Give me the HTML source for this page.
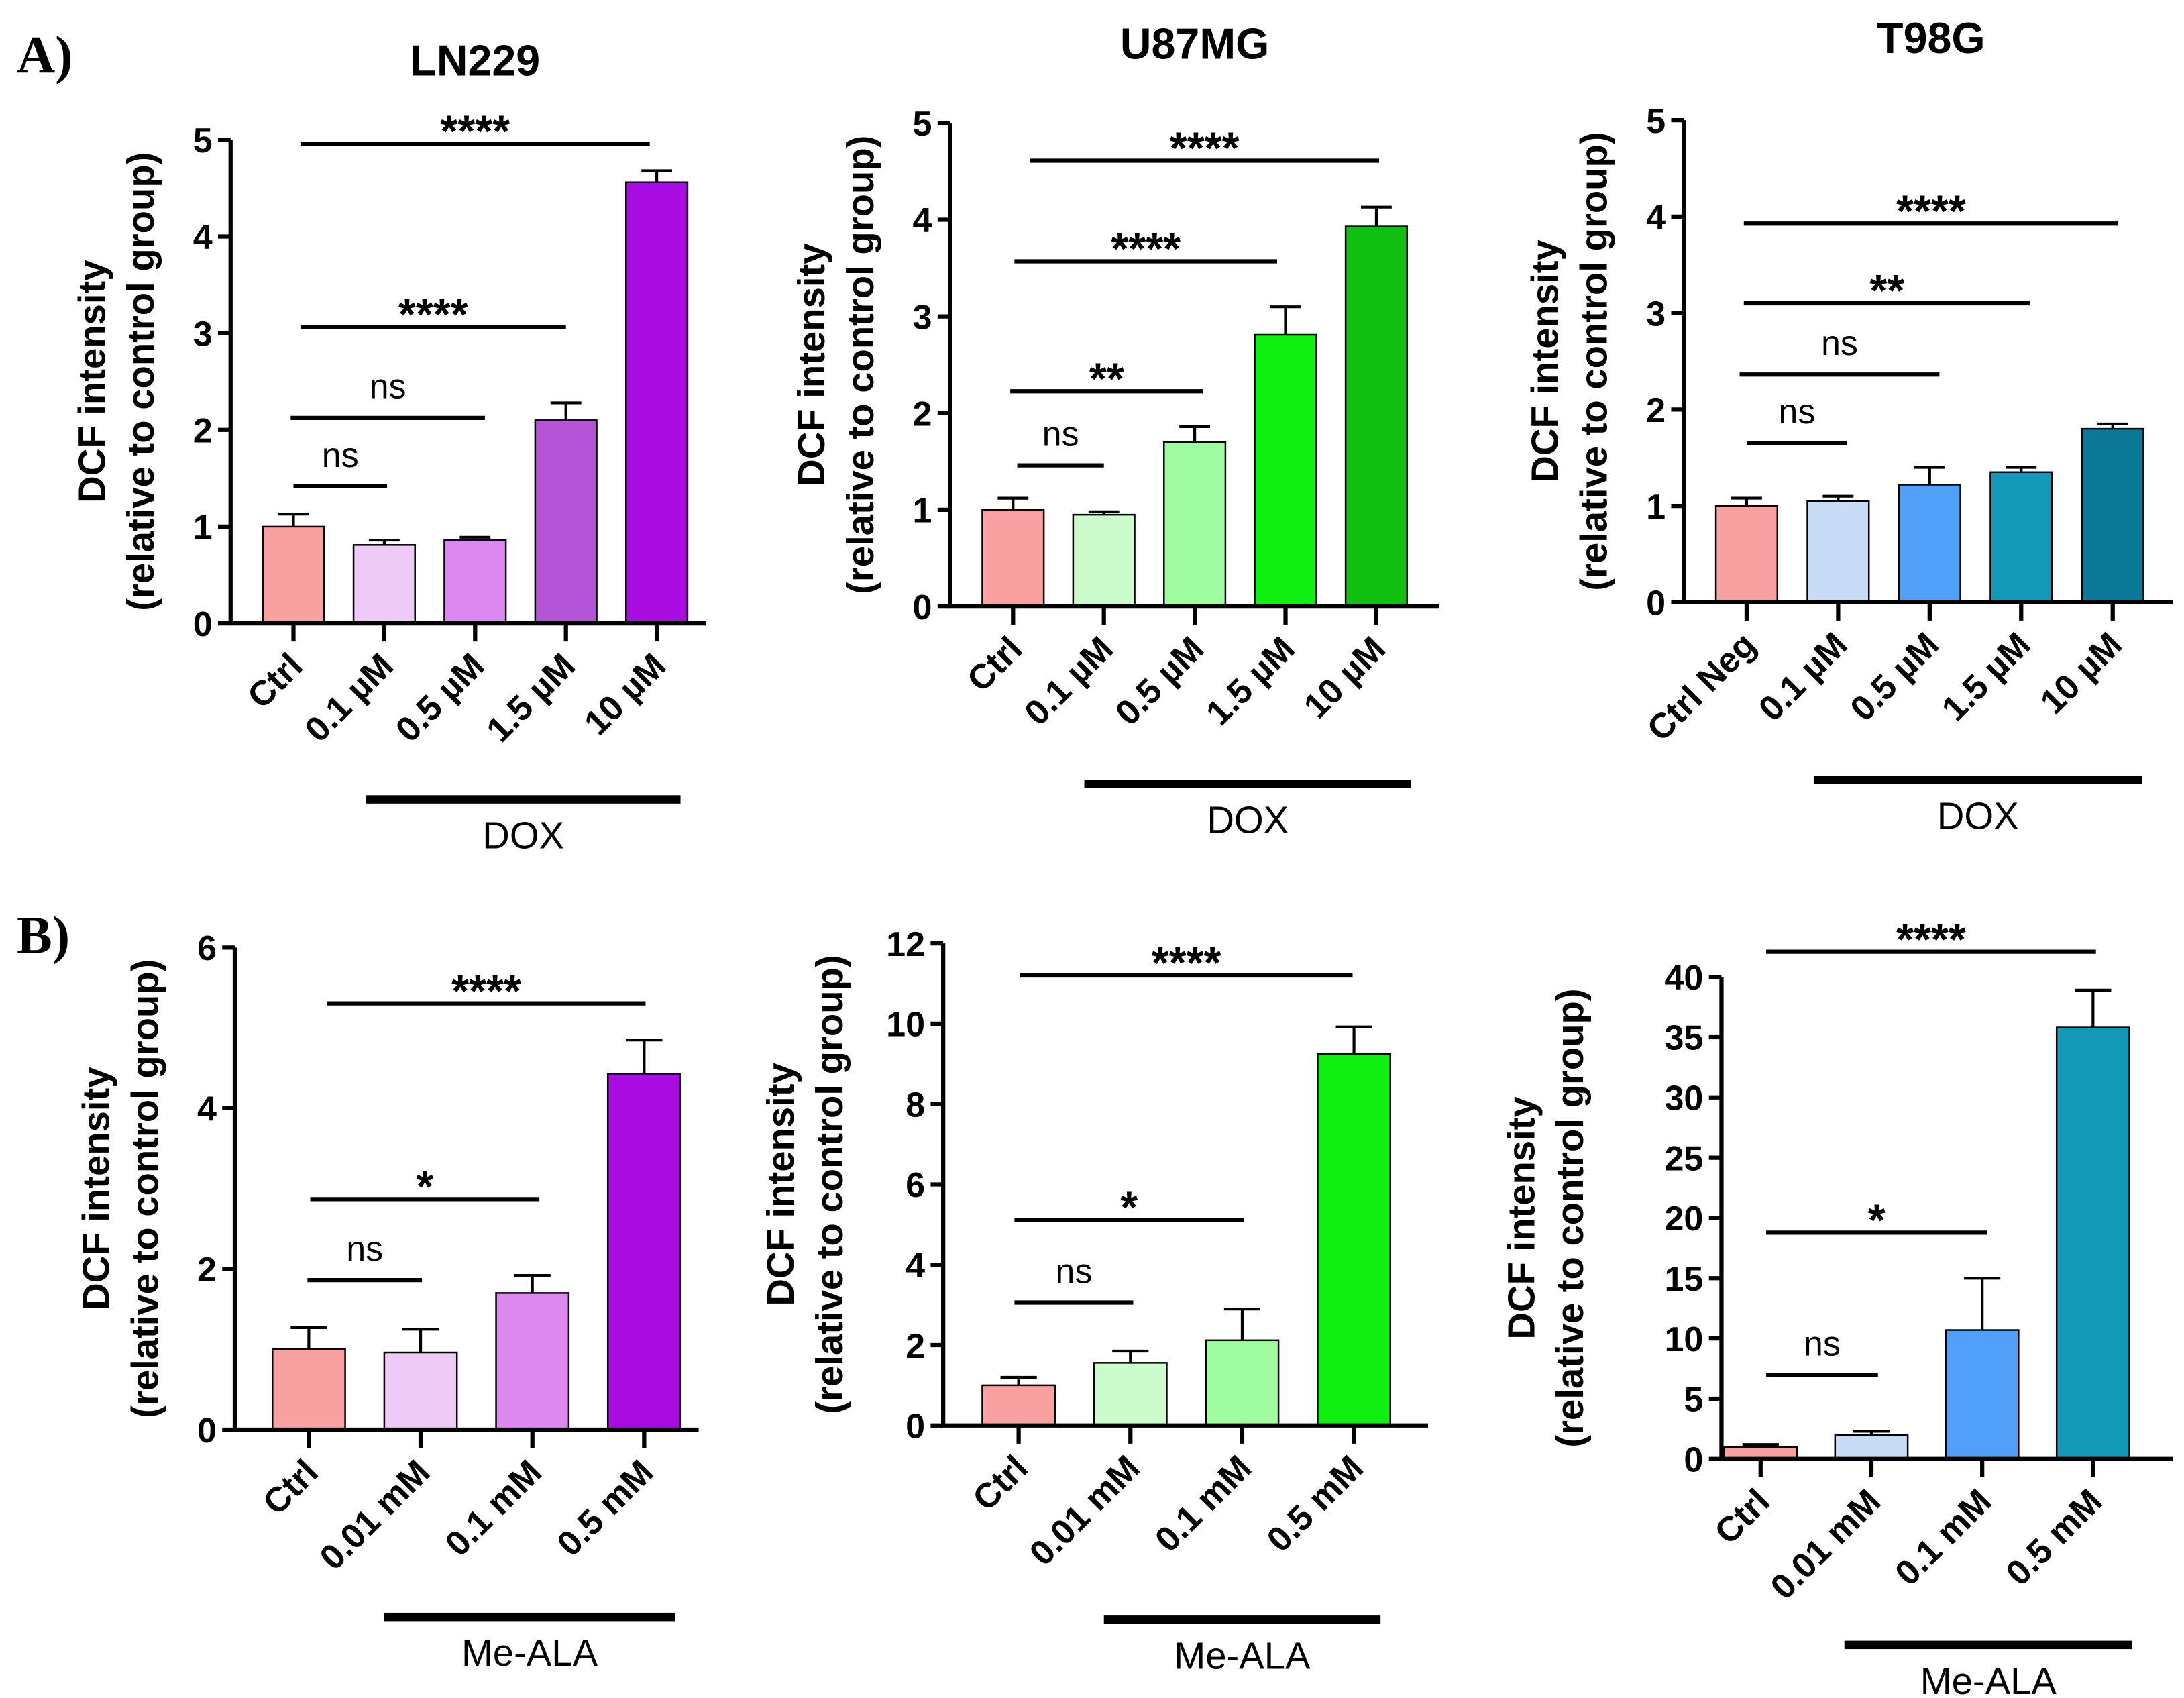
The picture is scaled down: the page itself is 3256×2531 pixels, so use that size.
<!DOCTYPE html>
<html><head><meta charset="utf-8">
<style>
html,body{margin:0;padding:0;background:#fff;}
svg{display:block;}
text{font-family:"Liberation Sans",Arial,sans-serif;}
text.serif{font-family:"Liberation Serif",serif;}
</style></head>
<body>
<svg id="fig" width="3256" height="2531" viewBox="0 0 1563 1215" xmlns="http://www.w3.org/2000/svg">
<rect width="1563" height="1215" fill="#fff"/>
<text class="serif" x="12" y="52" font-weight="bold" font-size="38">A)</text>
<text class="serif" x="12" y="682" font-weight="bold" font-size="38">B)</text>
</svg>
<script>
// ---- data ----
const catsDox = ["Ctrl","0.1 µM","0.5 µM","1.5 µM","10 µM"];
const catsDoxT98 = ["Ctrl Neg","0.1 µM","0.5 µM","1.5 µM","10 µM"];
const catsAla = ["Ctrl","0.01 mM","0.1 mM","0.5 mM"];
const ln229Dox = [1.0,0.81,0.86,2.1,4.56];
const ln229DoxErr = [0.13,0.05,0.03,0.18,0.12];
const u87Dox = [1.0,0.95,1.7,2.81,3.93];
const u87DoxErr = [0.12,0.03,0.16,0.29,0.2];
const t98Dox = [1.0,1.05,1.22,1.35,1.8];
const t98DoxErr = [0.08,0.05,0.18,0.05,0.05];
const ln229Ala = [1.0,0.96,1.7,4.43];
const ln229AlaErr = [0.27,0.29,0.22,0.42];
const u87Ala = [1.0,1.56,2.12,9.25];
const u87AlaErr = [0.2,0.29,0.78,0.67];
const t98Ala = [1.0,2.0,10.7,35.8];
const t98AlaErr = [0.2,0.3,4.3,3.1];
const ticks5 = [0,1,2,3,4,5];
const ticks6 = [0,2,4,6];
const ticks12 = [0,2,4,6,8,10,12];
const ticks40 = [0,5,10,15,20,25,30,35,40];

const NS="http://www.w3.org/2000/svg";
const svg=document.getElementById('fig');
function el(tag,attrs,parent){const e=document.createElementNS(NS,tag);for(const k in attrs)e.setAttribute(k,attrs[k]);(parent||svg).appendChild(e);return e;}

function panel(p){
  const g=el('g',{});
  
  
  const y=v=>p.y0-(v-p.ticks[0])/(p.ticks[p.ticks.length-1]-p.ticks[0])*(p.y0-p.yTop);
  const x=i=>p.x1+i*p.step;
  if(p.title){const t=el('text',{x:p.tx,y:p.ty,'text-anchor':'middle','font-weight':'bold','font-size':31},g);t.textContent=p.title;
    
    }
  p.vals.forEach((v,i)=>{
    const cx=x(i),w=p.bw;
    const r=el('rect',{x:cx-w/2,y:y(v),width:w,height:p.y0-y(v),fill:p.colors[i],stroke:'#000','stroke-width':1.2},g);
    
    
    const top=y(v+p.err[i]);
    const e=el('path',{d:`M${cx},${y(v)}V${top}M${cx-w/4},${top}H${cx+w/4}`,stroke:'#000','stroke-width':2,fill:'none'},g);
    
    
  });
  el('path',{d:`M${p.x0},${p.yTop}V${p.y0}H${p.xEnd}`,stroke:'#000','stroke-width':3,fill:'none'},g);
  p.ticks.forEach(t=>{
    el('line',{x1:p.x0-9,x2:p.x0,y1:y(t),y2:y(t),stroke:'#000','stroke-width':3},g);
    const tt=el('text',{x:p.x0-13,y:y(t)+9,'text-anchor':'end','font-size':25,'font-weight':'bold'},g);tt.textContent=t;
    
    
  });
  p.cats.forEach((c,i)=>{
    el('line',{x1:x(i),x2:x(i),y1:p.y0,y2:p.y0+13,stroke:'#000','stroke-width':3},g);
    const tx=x(i)+8,ty=p.y0+32;
    const tt=el('text',{x:tx,y:ty,'text-anchor':'end','font-size':25,'font-weight':'bold',transform:`rotate(-45 ${tx} ${ty})`},g);tt.textContent=c;
    
    
  });
  const ym=(p.y0+p.yTop)/2;
  const a=p.x0-p.lo-10, b=p.x0-p.lo+25;
  const l1=el('text',{x:a,y:ym,'text-anchor':'middle','font-size':27,'font-weight':'bold',transform:`rotate(-90 ${a} ${ym})`},g);l1.textContent='DCF intensity';
  
  
  const l2=el('text',{x:b,y:ym,'text-anchor':'middle','font-size':27,'font-weight':'bold',transform:`rotate(-90 ${b} ${ym})`},g);l2.textContent='(relative to control group)';
  
  
  p.sig.forEach(s=>{
    el('line',{x1:s[0],x2:s[1],y1:s[2],y2:s[2],stroke:'#000','stroke-width':3},g);
    const ns=s[3]=='ns';
    const st=el('text',{x:(s[0]+s[1])/2,y:ns?s[2]-14:s[2]+2,'text-anchor':'middle','font-size':ns?25:32,'font-weight':ns?'normal':'bold'},g);
    st.textContent=s[3];
    
    
  });
  el('rect',{x:p.tb[0],y:p.tb[2]-3,width:p.tb[1]-p.tb[0],height:6,fill:'#000'},g);
  const tl=el('text',{x:(p.tb[0]+p.tb[1])/2,y:p.tb[2]+35,'text-anchor':'middle','font-size':27},g);tl.textContent=p.treat;
  
  
}
const doxPurple=["#f9a0a0","#eecaf6","#dd88f0","#b355d6","#a80ce0"];
const green=["#f9a0a0","#ccfccc","#a0fca0","#10f010","#10c010"];
const blue=["#f9a0a0","#c8dcf8","#50a0fa","#1498b8","#0a7896"];
panel({name:'ln229-dox-chart',title:'LN229',tx:340,ty:54,x0:165,lo:80,xEnd:505,y0:446,yTop:100,ticks:ticks5,x1:210,step:65,bw:44,
 vals:ln229Dox,err:ln229DoxErr,cats:catsDox,colors:doxPurple,
 sig:[[215,465,103,'****'],[215,405,234,'****'],[208,347,299,'ns'],[210,277,348,'ns']],tb:[262,487,572],treat:'DOX'});
panel({name:'u87mg-dox-chart',title:'U87MG',tx:855,ty:42,x0:680,lo:80,xEnd:1030,y0:434,yTop:88,ticks:ticks5,x1:725,step:65,bw:44,
 vals:u87Dox,err:u87DoxErr,cats:catsDox,colors:green,
 sig:[[737,987,115,'****'],[726,914,187,'****'],[723,861,280,'**'],[728,790,333,'ns']],tb:[776,1010,561],treat:'DOX'});
panel({name:'t98g-dox-chart',title:'T98G',tx:1382,ty:38,x0:1205,lo:80,xEnd:1555,y0:431,yTop:86,ticks:ticks5,x1:1250,step:65.5,bw:44,
 vals:t98Dox,err:t98DoxErr,cats:catsDoxT98,colors:blue,
 sig:[[1248,1516,160,'****'],[1248,1453,217,'**'],[1245,1388,268,'ns'],[1250,1322,317,'ns']],tb:[1298,1533,558],treat:'DOX'});
panel({name:'ln229-mala-chart',title:'',x0:168,lo:80,xEnd:500,y0:1023,yTop:678,ticks:ticks6,x1:221,step:80,bw:52,
 vals:ln229Ala,err:ln229AlaErr,cats:catsAla,colors:["#f9a0a0","#eecaf6","#dd88f0","#a80ce0"],
 sig:[[234,462,718,'****'],[222,386,858,'*'],[220,302,916,'ns']],tb:[275,483,1157],treat:'Me-ALA'});
panel({name:'u87mg-mala-chart',title:'',x0:675,lo:97,xEnd:1022,y0:1020,yTop:675,ticks:ticks12,x1:729,step:80,bw:52,
 vals:u87Ala,err:u87AlaErr,cats:catsAla,colors:["#f9a0a0","#ccfccc","#a0fca0","#10f010"],
 sig:[[730,968,698,'****'],[726,890,873,'*'],[726,811,932,'ns']],tb:[790,988,1159],treat:'Me-ALA'});
panel({name:'t98g-mala-chart',title:'',x0:1232,lo:124,xEnd:1555,y0:1044,yTop:699,ticks:ticks40,x1:1260,step:79.3,bw:52,
 vals:t98Ala,err:t98AlaErr,cats:catsAla,colors:["#f9a0a0","#c8dcf8","#50a0fa","#1498b8"],
 sig:[[1264,1500,681,'****'],[1264,1422,882,'*'],[1264,1344,984,'ns']],tb:[1320,1526,1177],treat:'Me-ALA'});
</script>
</body></html>
